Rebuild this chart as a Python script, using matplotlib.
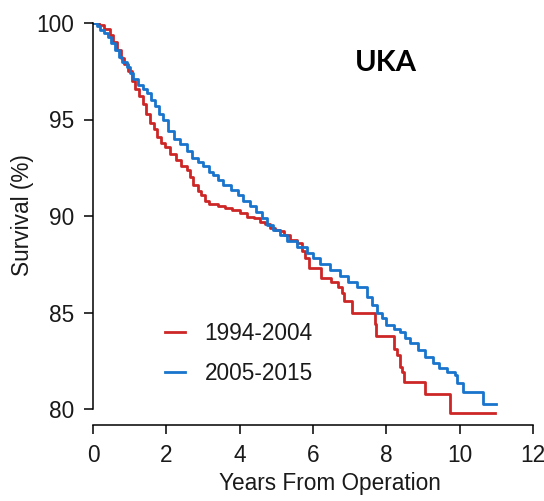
import matplotlib
matplotlib.use("Agg")
import matplotlib.pyplot as plt

plt.rcParams['font.family'] = ['Liberation Sans', 'DejaVu Sans']

# ---- data ----
red_label = "1994-2004"
blue_label = "2005-2015"
red_t = [0, 0.15, 0.3, 0.45, 0.55, 0.65, 0.75, 0.85, 0.95, 1.05, 1.15, 1.25, 1.35, 1.45,
         1.55, 1.65, 1.75, 1.85, 1.95, 2.1, 2.25, 2.4, 2.55, 2.65, 2.72, 2.85, 2.95, 3.05,
         3.15, 3.4, 3.6, 3.8, 4.0, 4.2, 4.4, 4.55, 4.7, 4.82, 4.95, 5.1, 5.2, 5.37, 5.56,
         5.7, 5.78, 5.9, 6.22, 6.5, 6.68, 6.8, 6.85, 7.05, 7.68, 7.72, 8.22, 8.3, 8.36,
         8.42, 8.47, 9.05, 9.73, 10.97]
red_s = [100, 99.9, 99.7, 99.4, 99.0, 98.6, 98.2, 97.9, 97.5, 97.0, 96.6, 96.2, 95.8, 95.3,
         94.8, 94.5, 94.1, 93.8, 93.6, 93.2, 92.9, 92.6, 92.4, 92.0, 91.6, 91.3, 91.1, 90.8,
         90.6, 90.5, 90.4, 90.3, 90.15, 89.95, 89.9, 89.7, 89.6, 89.4, 89.3, 89.2, 89.0, 88.75, 88.6,
         88.2, 87.8, 87.3, 86.8, 86.6, 86.3, 86.0, 85.6, 85.0, 84.4, 83.8, 83.1, 82.8, 82.2,
         81.9, 81.4, 80.8, 79.8, 79.8]
blue_t = [0, 0.1, 0.2, 0.3, 0.4, 0.5, 0.6, 0.7, 0.8, 0.93, 1.0, 1.1, 1.23, 1.35, 1.47, 1.58,
          1.69, 1.8, 1.9, 2.04, 2.2, 2.37, 2.55, 2.7, 2.85, 3.0, 3.15, 3.27, 3.4, 3.54, 3.75,
          3.95, 4.1, 4.28, 4.45, 4.6, 4.75, 4.9, 5.1, 5.29, 5.55, 5.83, 6.0, 6.19, 6.45, 6.73,
          6.95, 7.2, 7.47, 7.6, 7.74, 7.87, 8.0, 8.2, 8.37, 8.5, 8.64, 8.86, 9.05, 9.26, 9.45,
          9.65, 9.86, 9.92, 10.08, 10.63, 10.98]
blue_s = [100, 99.85, 99.65, 99.5, 99.3, 98.95, 98.6, 98.25, 98.0, 97.7, 97.4, 97.1, 96.8, 96.6,
          96.35, 96.0, 95.7, 95.3, 95.0, 94.4, 94.0, 93.75, 93.35, 93.0, 92.8, 92.6, 92.3, 92.1,
          91.85, 91.6, 91.35, 91.1, 90.8, 90.5, 90.2, 89.9, 89.55, 89.3, 89.0, 88.7, 88.4, 88.1,
          87.8, 87.5, 87.2, 86.9, 86.6, 86.3, 85.8, 85.4, 85.0, 84.7, 84.35, 84.15, 84.0, 83.7,
          83.4, 83.05, 82.7, 82.4, 82.15, 81.9, 81.75, 81.35, 80.9, 80.25, 80.25]
x_ticks = [0, 2, 4, 6, 8, 10, 12]
y_ticks = [80, 85, 90, 95, 100]
title_text = "UKA"
x_label = "Years From Operation"
y_label = "Survival (%)"

RED = "#CD2626"
BLUE = "#1874CD"
TXT = "#1a1a1a"

W, H = 544, 501
fig = plt.figure(figsize=(W / 100, H / 100), dpi=100)
ax = fig.add_axes([93 / W, (H - 425) / H, (533 - 93) / W, (425 - 23) / H])

ax.step(red_t, red_s, where='post', color=RED, lw=2.0, label=red_label)
ax.step(blue_t, blue_s, where='post', color=BLUE, lw=2.0, label=blue_label)

ax.set_xlim(0, 12)
ax.set_ylim(80 - 16 / 19.3, 100)
ax.spines['top'].set_visible(False)
ax.spines['right'].set_visible(False)
ax.spines['left'].set_bounds(80, 100)
for s in ('left', 'bottom'):
    ax.spines[s].set_linewidth(1.1)
ax.set_xticks(x_ticks)
ax.set_yticks(y_ticks)
ax.tick_params(axis='both', labelsize=16.3, width=1.1, length=6.5, pad=7, colors='black')
for lab in ax.get_xticklabels() + ax.get_yticklabels():
    lab.set_color(TXT)

fig.text(330 / W, (H - 490) / H, x_label, ha='center', va='baseline', fontsize=16.3, color=TXT)
fig.text(22 / W, (H - 215) / H, y_label, ha='center', va='center', rotation=90, fontsize=16.3,
         color=TXT)
fig.text(386 / W, (H - 63) / H, title_text, ha='center', va='center', fontsize=21,
         fontweight='bold', family=['Lato', 'DejaVu Sans'], color='black')

leg = ax.legend(loc='upper left', bbox_to_anchor=(165 / W, (H - 322) / H),
                bbox_transform=fig.transFigure, frameon=False, fontsize=16.3,
                handlelength=0.9, handletextpad=0.85, labelspacing=0.75,
                borderpad=0, borderaxespad=0)
for t in leg.get_texts():
    t.set_color(TXT)

fig.savefig("out.png", dpi=100)
